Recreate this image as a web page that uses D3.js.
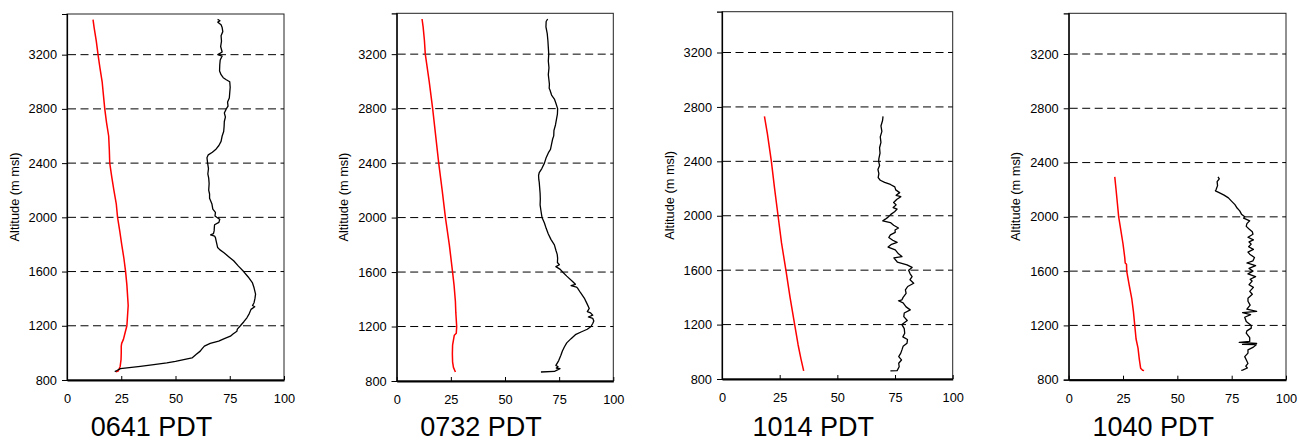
<!DOCTYPE html>
<html>
<head>
<meta charset="utf-8">
<script src="https://cdn.jsdelivr.net/npm/d3@7/dist/d3.min.js"></script>
<style>
  html, body { margin: 0; padding: 0; background: #fff; }
  svg { display: block; }
  text { font-family: "Liberation Sans", Arial, Helvetica, sans-serif; fill: #000; }
</style>
</head>
<body>
<svg id="chart" width="1299" height="442"></svg>
<script>
// ---------------- DATA ----------------
const panelTitles = ["0641 PDT", "0732 PDT", "1014 PDT", "1040 PDT"];
const xTicks = [0, 25, 50, 75, 100];
const yTicks = [800, 1200, 1600, 2000, 2400, 2800, 3200];
const gridTicks = [1200, 1600, 2000, 2400, 2800, 3200];
const yDomain = [800, 3500];
const xDomain = [0, 100];
const yLabel = "Altitude (m msl)";

// red profiles [altitude (m msl), value]
const red0641 = [[3459,12.0],[3400,12.5],[3300,13.5],[3200,14.3],[3100,15.2],[3000,16.2],[2900,16.8],[2800,17.4],[2700,18.2],[2600,19.2],[2500,19.5],[2400,19.7],[2300,20.6],[2200,21.6],[2100,22.7],[2000,23.3],[1900,24.3],[1800,25.2],[1700,26.2],[1600,27.0],[1500,27.6],[1400,28.0],[1350,28.2],[1300,28.0],[1200,27.6],[1150,26.8],[1100,26.0],[1070,25.2],[1050,25.0],[1000,25.0],[950,24.9],[900,24.5],[866,23.6],[860,22.5]];
const red0732 = [[3458,11.7],[3400,12.2],[3300,12.8],[3200,13.2],[3000,15.0],[2800,16.6],[2600,18.0],[2400,19.4],[2200,21.0],[2000,22.5],[1800,24.3],[1600,25.8],[1500,26.5],[1384,27.1],[1300,27.3],[1200,27.7],[1150,27.5],[1136,26.6],[1100,26.2],[1063,25.8],[1000,25.7],[940,25.8],[900,26.2],[866,27.1]];
const red1014 = [[2731,18.4],[2600,19.7],[2400,21.4],[2200,22.8],[2000,24.3],[1800,25.8],[1600,27.7],[1400,29.5],[1200,31.5],[1050,33.0],[950,34.2],[860,35.4]];
const red1040 = [[2295,21.2],[2200,21.8],[2100,22.4],[2000,23.0],[1900,24.0],[1800,25.0],[1700,25.8],[1660,26.0],[1650,26.6],[1600,26.7],[1500,27.8],[1400,29.0],[1300,29.8],[1200,30.4],[1100,31.0],[1033,31.9],[950,32.5],[885,33.1],[870,34.0],[868,34.7]];

// black profiles [altitude (m msl), value]
const black0641 = [[3460,69.4],[3450,70.5],[3440,69.5],[3420,71.0],[3400,71.5],[3370,71.8],[3340,71.0],[3300,71.2],[3260,70.8],[3220,71.5],[3200,69.5],[3190,71.5],[3160,70.6],[3126,70.4],[3080,70.3],[3052,71.0],[3030,72.0],[3015,73.4],[3000,75.0],[2960,75.2],[2920,75.0],[2880,74.8],[2850,74.0],[2820,74.2],[2800,73.4],[2770,72.5],[2740,73.0],[2707,72.5],[2670,72.4],[2633,72.2],[2600,71.5],[2560,71.0],[2530,70.0],[2500,68.5],[2480,67.0],[2461,65.1],[2440,64.5],[2400,64.8],[2360,65.2],[2320,64.9],[2289,65.3],[2250,65.5],[2200,65.3],[2172,65.7],[2140,65.7],[2098,66.8],[2060,67.2],[2037,68.4],[2010,68.2],[2000,69.0],[1985,70.4],[1963,70.0],[1945,68.0],[1926,67.9],[1900,67.8],[1880,67.5],[1870,66.2],[1862,68.0],[1850,68.4],[1820,68.8],[1778,69.4],[1760,70.5],[1741,72.2],[1710,74.5],[1680,76.8],[1640,79.0],[1600,81.4],[1560,83.5],[1519,85.4],[1480,86.2],[1433,86.9],[1400,86.6],[1370,86.2],[1350,85.5],[1340,86.5],[1321,84.8],[1290,84.0],[1259,82.9],[1230,81.5],[1200,79.9],[1175,78.5],[1160,78.3],[1140,76.5],[1123,75.3],[1105,72.5],[1087,69.9],[1070,66.0],[1050,63.3],[1030,62.2],[1013,61.4],[990,59.6],[963,57.6],[951,53.8],[938,50.0],[926,46.0],[914,40.0],[901,33.8],[884,24.6],[870,23.0],[862,22.0]];
const black0732 = [[3458,69.7],[3440,69.0],[3400,68.9],[3350,69.5],[3300,69.8],[3250,70.0],[3200,70.2],[3150,70.0],[3100,70.3],[3050,70.0],[3021,70.2],[2980,70.5],[2950,70.4],[2935,70.8],[2900,71.5],[2870,72.8],[2840,73.5],[2800,74.3],[2760,74.2],[2724,73.8],[2680,73.3],[2640,72.6],[2600,72.5],[2577,72.0],[2540,71.5],[2500,71.0],[2481,70.2],[2440,69.0],[2400,68.2],[2360,67.0],[2330,65.8],[2309,65.5],[2280,65.6],[2260,65.8],[2220,66.0],[2180,66.2],[2137,66.3],[2093,66.2],[2050,66.6],[2000,67.1],[1960,68.2],[1921,69.0],[1880,70.0],[1840,71.2],[1800,72.8],[1760,73.5],[1730,74.1],[1702,74.3],[1670,74.2],[1654,75.1],[1640,73.5],[1620,75.5],[1600,76.6],[1570,78.5],[1531,81.2],[1510,82.5],[1500,80.5],[1490,83.0],[1482,83.5],[1450,84.8],[1409,86.6],[1370,87.8],[1333,88.9],[1310,88.0],[1300,89.5],[1283,90.5],[1270,88.5],[1260,90.5],[1240,91.0],[1222,90.5],[1200,89.7],[1180,88.0],[1160,85.1],[1140,82.5],[1111,80.5],[1080,78.5],[1050,77.4],[1020,76.5],[989,75.8],[950,74.8],[915,73.5],[905,74.5],[895,73.7],[890,75.4],[880,74.0],[870,72.8],[866,66.6]];
const black1014 = [[2731,69.8],[2700,69.6],[2660,68.9],[2620,69.3],[2580,68.6],[2540,68.9],[2500,68.3],[2460,68.5],[2420,68.0],[2400,67.9],[2370,68.3],[2340,67.6],[2310,68.0],[2280,67.7],[2261,68.6],[2245,70.5],[2230,73.0],[2212,74.9],[2190,75.3],[2170,77.0],[2150,75.5],[2140,77.5],[2120,75.7],[2098,74.4],[2080,75.5],[2060,74.2],[2049,75.9],[2030,74.8],[2010,73.2],[1990,72.0],[1975,70.8],[1963,69.7],[1950,73.0],[1930,74.4],[1910,76.5],[1895,75.0],[1878,75.1],[1860,73.0],[1840,72.3],[1820,74.0],[1804,75.9],[1790,73.5],[1770,72.0],[1749,75.1],[1720,76.5],[1700,78.0],[1690,74.5],[1660,76.0],[1639,80.2],[1620,82.4],[1600,80.9],[1575,81.5],[1553,82.4],[1530,81.5],[1504,83.1],[1480,80.5],[1455,79.5],[1430,79.8],[1400,78.5],[1382,78.0],[1375,76.5],[1360,78.5],[1330,79.8],[1308,81.6],[1285,79.0],[1259,78.8],[1230,80.3],[1200,78.0],[1170,79.0],[1136,79.2],[1110,78.4],[1090,80.4],[1063,80.2],[1040,78.5],[1014,78.0],[990,77.5],[965,76.6],[940,77.8],[916,76.6],[890,76.8],[862,75.9],[860,73.0]];
const black1040 = [[2295,68.7],[2280,69.3],[2260,68.3],[2230,68.5],[2200,67.8],[2192,67.5],[2180,69.0],[2160,71.5],[2140,73.5],[2118,74.8],[2090,76.5],[2065,77.5],[2044,78.7],[2020,79.5],[2000,81.0],[1990,80.5],[1971,83.3],[1950,82.0],[1930,81.7],[1910,83.0],[1890,84.5],[1872,84.8],[1850,82.5],[1830,85.0],[1815,83.0],[1799,84.0],[1780,82.8],[1760,85.0],[1740,82.5],[1725,83.3],[1700,85.5],[1676,84.8],[1660,82.0],[1640,86.0],[1620,83.0],[1600,84.8],[1580,82.5],[1560,86.0],[1540,83.5],[1527,84.4],[1500,83.0],[1480,85.0],[1451,83.3],[1430,84.5],[1400,82.5],[1378,82.5],[1350,83.5],[1320,82.0],[1303,86.5],[1295,80.0],[1280,83.7],[1260,81.0],[1229,81.7],[1200,84.0],[1180,84.0],[1160,82.0],[1143,81.7],[1110,83.3],[1082,83.3],[1075,78.5],[1068,86.5],[1060,80.0],[1058,86.3],[1040,85.0],[1020,82.5],[996,82.5],[970,81.0],[947,81.7],[920,82.5],[900,81.5],[886,82.2],[870,80.0],[868,79.4]];

const redSeries = [red0641, red0732, red1014, red1040];
const blackSeries = [black0641, black0732, black1014, black1040];

// ---------------- LAYOUT ----------------
const frames = [
  {left: 67,    right: 284,    top: 14,   bottom: 380},
  {left: 396.7, right: 613.3,  top: 13.3, bottom: 381},
  {left: 722,   right: 952.7,  top: 11.7, bottom: 379},
  {left: 1068.7,right: 1286,   top: 13.3, bottom: 379.7}
];

const svg = d3.select("#chart");

frames.forEach((f, i) => {
  const x = d3.scaleLinear().domain(xDomain).range([f.left, f.right]);
  const y = d3.scaleLinear().domain(yDomain).range([f.bottom, f.top]);
  const g = svg.append("g");

  // frame
  g.append("rect")
    .attr("x", f.left).attr("y", f.top)
    .attr("width", f.right - f.left).attr("height", f.bottom - f.top)
    .attr("fill", "none").attr("stroke", "#222").attr("stroke-width", 1);

  // dashed gridlines
  g.selectAll("line.grid").data(gridTicks).enter().append("line")
    .attr("x1", f.left + 1).attr("x2", f.right)
    .attr("y1", d => y(d)).attr("y2", d => y(d))
    .attr("stroke", "#000").attr("stroke-width", 1)
    .attr("stroke-dasharray", "8,4.5");

  // y axis
  const yAxis = d3.axisLeft(y).tickValues(yTicks).tickSize(5).tickPadding(5).tickFormat(d3.format("d"));
  const ya = g.append("g").attr("transform", `translate(${f.left},0)`).call(yAxis);
  ya.select(".domain").attr("stroke", "#000").attr("stroke-width", 1.2);
  ya.selectAll(".tick line").attr("stroke", "#000");
  ya.selectAll(".tick text").attr("font-size", 12.8).attr("font-family", '"Liberation Sans", Arial, sans-serif').attr("fill", "#000");

  // x axis (ticks pointing inward)
  const xAxis = d3.axisBottom(x).tickValues(xTicks).tickSizeInner(-4).tickSizeOuter(0).tickPadding(14).tickFormat(d3.format("d"));
  const xa = g.append("g").attr("transform", `translate(0,${f.bottom})`).call(xAxis);
  xa.select(".domain").attr("stroke", "#000").attr("stroke-width", 2);
  xa.selectAll(".tick line").attr("stroke", "#000");
  xa.selectAll(".tick text").attr("font-size", 12.8).attr("font-family", '"Liberation Sans", Arial, sans-serif').attr("fill", "#000");

  // y label
  const cy = (f.top + f.bottom) / 2;
  g.append("text")
    .attr("transform", `translate(${f.left - 48.5},${cy}) rotate(-90)`)
    .attr("text-anchor", "middle")
    .attr("font-size", 12.8)
    .text(yLabel);

  // lines
  const line = d3.line().x(d => x(d[1])).y(d => y(d[0]));
  g.append("path").datum(redSeries[i]).attr("d", line)
    .attr("fill", "none").attr("stroke", "#ff0000").attr("stroke-width", 1.5)
    .attr("stroke-linejoin", "round");
  g.append("path").datum(blackSeries[i]).attr("d", line)
    .attr("fill", "none").attr("stroke", "#000").attr("stroke-width", 1.3)
    .attr("stroke-linejoin", "round");

  // title
  g.append("text")
    .attr("x", (f.left + f.right) / 2 - 24)
    .attr("y", 435.5)
    .attr("text-anchor", "middle")
    .attr("font-size", 27)
    .text(panelTitles[i]);
});
</script>
</body>
</html>
